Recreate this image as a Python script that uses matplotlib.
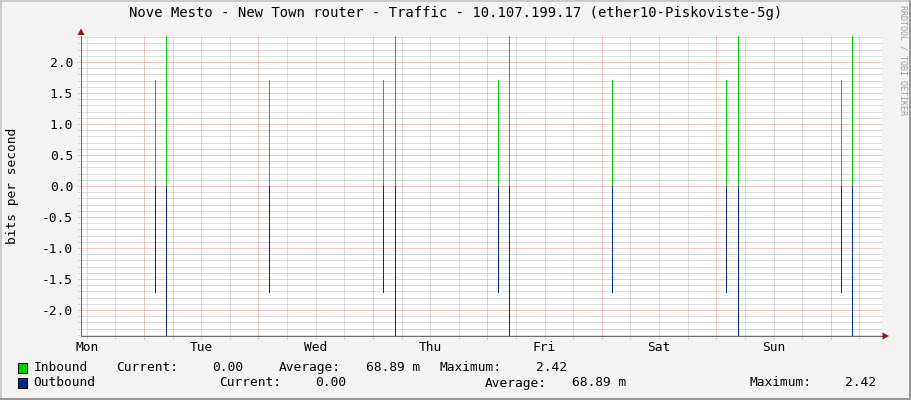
import matplotlib
matplotlib.use("Agg")
import matplotlib.pyplot as plt
from matplotlib.patches import Polygon, Rectangle

# Donnees (heures depuis lundi 00:00, bits par seconde)
spike_hours = [14.4, 16.7, 38.3, 62.2, 64.7, 86.3, 88.6, 110.2, 134.1, 136.6, 158.2, 160.5]
inbound = [1.71, 2.42, 1.71, 1.71, 2.42, 1.71, 2.42, 1.71, 1.71, 2.42, 1.71, 2.42]
outbound = [1.71, 2.42, 1.71, 1.71, 2.42, 1.71, 2.42, 1.71, 1.71, 2.42, 1.71, 2.42]

day_labels = ["Mon", "Tue", "Wed", "Thu", "Fri", "Sat", "Sun"]
day_hours = [0, 24, 48, 72, 96, 120, 144]
y_ticks = [-2.0, -1.5, -1.0, -0.5, 0.0, 0.5, 1.0, 1.5, 2.0]

legend_names = ["Inbound", "Outbound"]
legend_colors = ["#00CC00", "#002A97"]
current = ["0.00", "0.00"]
average = ["68.89 m", "68.89 m"]
maximum = ["2.42", "2.42"]

title = "Nove Mesto - New Town router - Traffic - 10.107.199.17 (ether10-Piskoviste-5g)"

W, H = 911, 400
PX = 0.72  # un pixel en points a 100 dpi
mono = "DejaVu Sans Mono"
plt.rcParams["lines.scale_dashes"] = False


def fx(x):
    return x / W


def fy(y):
    return 1 - y / H


fig = plt.figure(figsize=(W / 100, H / 100), dpi=100, facecolor="#F3F3F3")
ax = fig.add_axes([fx(81), fy(336), (882 - 81) / W, 300 / H])
ax.set_facecolor("white")
ax.set_xlim(-1.22, 166.75)
ax.set_ylim(-2.42, 2.42)

# grille : gris tous les 0.1 / 6h, rouge tous les 0.5 / 24h (a midi)
# les lignes depassent un peu des axes, comme des graduations
dots = (0, (PX, PX))
tick_x = -3 / 801
tick_y = -3 / 300
k = -24
while k <= 24:
    v = k / 10
    if k % 5 == 0:
        ax.axhline(v, xmin=tick_x, color="#F08C8C", lw=PX, ls=dots, zorder=1, clip_on=False)
    else:
        ax.axhline(v, xmin=tick_x, color="#BBBBBB", lw=PX, ls=dots, zorder=0, clip_on=False)
    k += 1
h = 0
while h <= 166:
    if h % 24 == 12:
        ax.axvline(h, ymin=tick_y, color="#F08C8C", lw=PX, ls=dots, zorder=1, clip_on=False)
    else:
        ax.axvline(h, ymin=tick_y, color="#BBBBBB", lw=PX, ls=dots, zorder=0, clip_on=False)
    h += 6

# pics entrant / sortant
ax.vlines(spike_hours, 0, inbound, colors=legend_colors[0], lw=PX, antialiased=False, zorder=3)
ax.vlines(spike_hours, [0] * len(outbound), [-v for v in outbound], colors=legend_colors[1],
          lw=PX, antialiased=False, zorder=3)

for s in ["top", "right"]:
    ax.spines[s].set_visible(False)
for s in ["left", "bottom"]:
    ax.spines[s].set_color("#6E6E6E")
    ax.spines[s].set_linewidth(PX)
    ax.spines[s].set_zorder(4)

ax.set_yticks(y_ticks)
ax.set_yticklabels([f"{v:.1f}" for v in y_ticks], fontfamily=mono, fontsize=9.3)
ax.set_xticks(day_hours)
ax.set_xticklabels(day_labels, fontfamily=mono, fontsize=9.3)
ax.tick_params(axis="y", length=0, pad=5.8)
ax.tick_params(axis="x", length=0, pad=3.5)
ax.set_ylabel("bits per second", fontfamily=mono, fontsize=9.3, labelpad=16.5)

# fleches des axes
fig.add_artist(Polygon([(fx(81), fy(28.5)), (fx(77.5), fy(35)), (fx(84.5), fy(35))],
                       closed=True, transform=fig.transFigure, color="#8B1A1A", lw=0))
fig.add_artist(Polygon([(fx(889), fy(336)), (fx(882.5), fy(332.5)), (fx(882.5), fy(339.5))],
                       closed=True, transform=fig.transFigure, color="#8B1A1A", lw=0))

fig.text(0.5, fy(13), title, ha="center", va="center", fontfamily=mono, fontsize=10.0)
fig.text(fx(903), fy(5), "RRDTOOL / TOBI OETIKER", rotation=270, ha="center", va="top",
         fontfamily=mono, fontsize=6, color="#A0A0A0")

# legende
rows_y = [367.5, 383]
cols = [
    [33.7, 116, 212, 279, 366, 440, 536],
    [33.7, 219.6, 315.5, 485, 572, 749.6, 845],
]
for i in range(2):
    y = rows_y[i]
    fig.add_artist(Rectangle((fx(17.5), fy(y + 5)), 9.5 / W, 10 / H, transform=fig.transFigure,
                             facecolor=legend_colors[i], edgecolor="black", lw=PX))
    parts = [legend_names[i], "Current:", current[i], "Average:", average[i], "Maximum:", maximum[i]]
    for x, txt in zip(cols[i], parts):
        fig.text(fx(x), fy(y), txt, ha="left", va="center", fontfamily=mono, fontsize=9.3)

# cadre ombre
fig.add_artist(Rectangle((0, 0), 2 / W, 1, transform=fig.transFigure, color="#CBCBCB", lw=0))
fig.add_artist(Rectangle((0, 1 - 2 / H), 1, 2 / H, transform=fig.transFigure, color="#CBCBCB", lw=0))
fig.add_artist(Rectangle((1 - 2 / W, 0), 2 / W, 1, transform=fig.transFigure, color="#999999", lw=0))
fig.add_artist(Rectangle((0, 0), 1, 2 / H, transform=fig.transFigure, color="#999999", lw=0))

fig.savefig("out.png", dpi=100, facecolor=fig.get_facecolor())
